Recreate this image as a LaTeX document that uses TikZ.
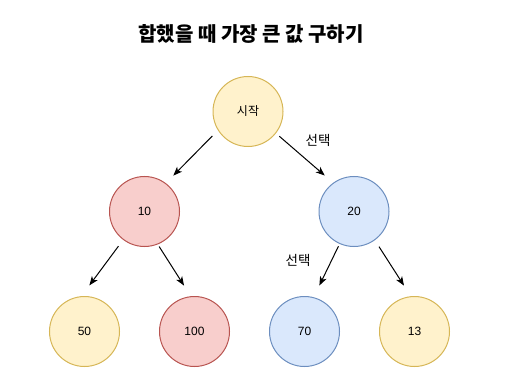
\documentclass[tikz,border=0pt]{standalone}
\usepackage{fontspec}
\setmainfont{Liberation Sans}
\newfontfamily\kr{Noto Sans CJK KR}
\usepackage{tikz}
\usetikzlibrary{arrows.meta}

\definecolor{yelfill}{HTML}{FFF2CC}\definecolor{yelline}{HTML}{D6B656}
\definecolor{redfill}{HTML}{F8CECC}\definecolor{redline}{HTML}{B85450}
\definecolor{blufill}{HTML}{DAE8FC}\definecolor{bluline}{HTML}{6C8EBF}

\begin{document}
\begin{tikzpicture}[x=1pt,y=-1pt,font=\fontsize{12}{14}\selectfont,
  ball/.style={circle,minimum size=70pt,inner sep=0pt,line width=1pt},
  yel/.style={ball,fill=yelfill,draw=yelline},
  red/.style={ball,fill=redfill,draw=redline},
  blu/.style={ball,fill=blufill,draw=bluline},
  arr/.style={-{Stealth[length=9pt,width=7pt,inset=2.5pt]},line width=1pt}]
  \useasboundingbox (0,0) rectangle (509,377);
  % title, 1pt = 1px of the reference
  \node[font=\fontsize{20}{24}\selectfont\kr\bfseries] (title) at (251,34) {합했을 때 가장 큰 값 구하기};
  % the tree
  \node[yel] (root) at (248,111.5) {\kr 시작};
  \node[red] (n10) at (144.5,211.5) {10};
  \node[blu] (n20) at (354,211.5) {20};
  \node[yel] (n50) at (84.5,331.5) {50};
  \node[red] (n100) at (194.5,331.5) {100};
  \node[blu] (n70) at (304.5,331.5) {70};
  \node[yel] (n13) at (414.5,331.5) {13};
  % arrows stop short of the circles
  \draw[arr,shorten <=7.9pt,shorten >=10.6pt] (root.212.7) -- (n10.53.1);
  \draw[arr,shorten <=4.5pt,shorten >=11.1pt] (root.322) -- (n20.126.3);
  \draw[arr,shorten <=7.9pt,shorten >=13.4pt] (n10.233.6) -- (n50.95.7);
  \draw[arr,shorten <=2.5pt,shorten >=12.6pt] (n10.292.2) -- (n100.96.2);
  \draw[arr,shorten <=2.6pt,shorten >=13pt] (n20.246.8) -- (n70.75.6);
  \draw[arr,shorten <=7.6pt,shorten >=12.6pt] (n20.306.9) -- (n13.96.2);
  % chosen path
  \node[font=\fontsize{13.5}{16}\selectfont\kr] (pick1) at (318,140) {선택};
  \node[font=\fontsize{13.5}{16}\selectfont\kr] (pick2) at (298,260) {선택};
\end{tikzpicture}
\end{document}
